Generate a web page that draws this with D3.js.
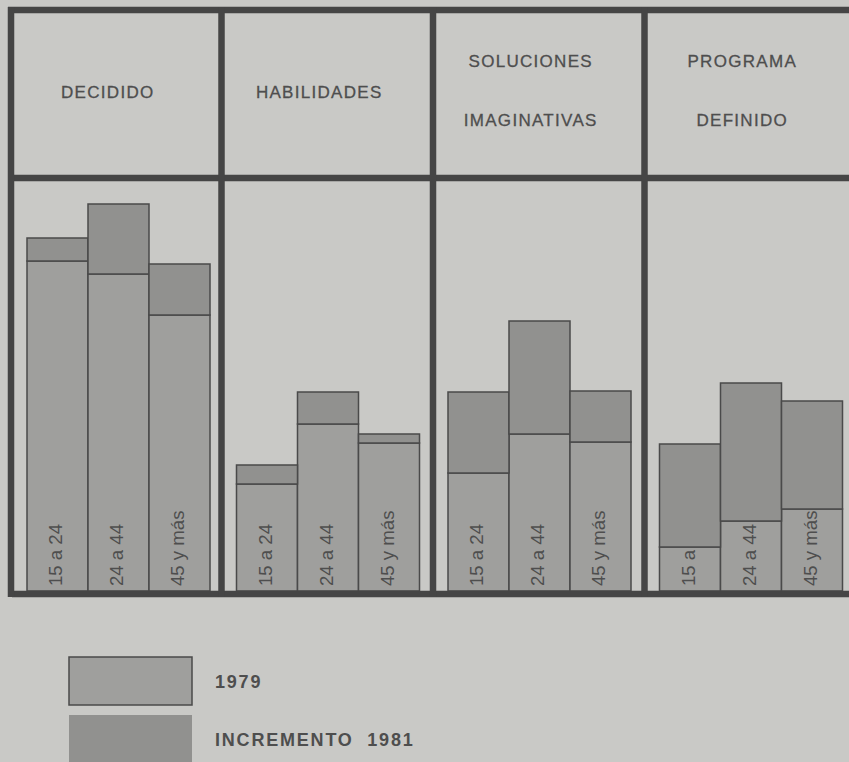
<!DOCTYPE html>
<html><head><meta charset="utf-8">
<script src="https://cdn.jsdelivr.net/npm/d3@7"></script>
<style>
html,body{margin:0;padding:0;background:#c9c9c6;}
svg{display:block;font-family:"Liberation Sans",Arial,sans-serif;}
</style></head>
<body><svg id="c" width="849" height="762"></svg>
<script>
const categories = ["DECIDIDO","HABILIDADES","SOLUCIONES IMAGINATIVAS","PROGRAMA DEFINIDO"];
const headerLines = [["DECIDIDO"],["HABILIDADES"],["SOLUCIONES","IMAGINATIVAS"],["PROGRAMA","DEFINIDO"]];
const ageGroups = ["15 a 24","24 a 44","45 y más"];
const values1979 = [[82.5,79.25,69],[26.75,41.75,37],[29.5,39.25,37.25],[11,17.5,20.5]];
const increment1981 = [[5.75,17.5,12.75],[4.75,8,2.25],[20.25,28.25,12.75],[25.75,34.5,27]];
const legendLabels = ["1979","INCREMENTO  1981"];

const C = {bg:"#c9c9c6", c79:"#9f9f9d", inc:"#91918f", frame:"#454545", text:"#4e4e4e", outline:"#4a4a4a"};
const svg = d3.select("#c");
svg.append("rect").attr("width",849).attr("height",762).attr("fill",C.bg);

const x0 = d3.scaleBand().domain(categories).range([10,856]).paddingInner(0);
const x1 = d3.scaleBand().domain(ageGroups).range([15,198]).padding(0);
const y = d3.scaleLinear().domain([0,100]).range([591,191]);
const headerTop = 10, headerBottom = 178, baseY = 594;

const g = svg.append("g");
categories.forEach((cat,i)=>{
  const shift = i===0 ? 2 : 0;
  const pg = g.append("g").attr("transform",`translate(${x0(cat)+shift},0)`);
  pg.selectAll("rect.b79").data(ageGroups).join("rect").attr("class","b79")
    .attr("x",d=>x1(d)).attr("width",x1.bandwidth())
    .attr("y",(d,j)=>y(values1979[i][j])).attr("height",(d,j)=>y(0)-y(values1979[i][j]))
    .attr("fill",C.c79).attr("stroke",C.outline).attr("stroke-width",1.5);
  pg.selectAll("text.age").data(ageGroups).join("text").attr("class","age")
    .attr("transform",d=>`translate(${x1(d)+x1.bandwidth()/2-2},586) rotate(-90)`)
    .attr("dy","0.35em").attr("font-size",18.6).attr("fill",C.text).text(d=>d);
  pg.selectAll("rect.inc").data(ageGroups).join("rect").attr("class","inc")
    .attr("x",d=>x1(d)).attr("width",x1.bandwidth())
    .attr("y",(d,j)=>y(values1979[i][j]+increment1981[i][j]))
    .attr("height",(d,j)=>y(values1979[i][j])-y(values1979[i][j]+increment1981[i][j]))
    .attr("fill",C.inc).attr("stroke",C.outline).attr("stroke-width",1.5);
  const lines = headerLines[i];
  const cx = x0.bandwidth()/2 - 8 - shift;
  const ys = lines.length===1 ? [98] : [67,126];
  lines.forEach((t,k)=>{
    pg.append("text").attr("x",cx).attr("y",ys[k]).attr("text-anchor","middle")
      .attr("font-size",17).attr("letter-spacing",1.3).attr("fill",C.text)
      .attr("stroke",C.text).attr("stroke-width",0.3).text(t);
  });
});

const fr = svg.append("g").attr("stroke",C.frame).attr("stroke-width",6.5).attr("fill","none");
fr.append("line").attr("x1",8).attr("x2",849).attr("y1",headerTop).attr("y2",headerTop);
fr.append("line").attr("x1",8).attr("x2",849).attr("y1",headerBottom).attr("y2",headerBottom);
fr.append("line").attr("x1",12).attr("x2",849).attr("y1",baseY).attr("y2",baseY);
categories.forEach((cat,i)=>{
  const xx = x0(cat) + (i===0?1:0);
  fr.append("line").attr("x1",xx).attr("x2",xx).attr("y1",headerTop-3).attr("y2",baseY+3);
});
fr.append("line").attr("x1",856).attr("x2",856).attr("y1",headerTop-3).attr("y2",baseY+3);

const lg = svg.append("g");
const legendFill = [C.c79, C.inc];
legendLabels.forEach((t,k)=>{
  const yy = 657 + k*58;
  lg.append("rect").attr("x",69).attr("y",yy).attr("width",123).attr("height",48)
    .attr("fill",legendFill[k]).attr("stroke",k===0?C.outline:"none").attr("stroke-width",1.5);
  lg.append("text").attr("x",215).attr("y",yy+31).attr("font-size",18).attr("font-weight","bold")
    .attr("letter-spacing",1.8).attr("fill",C.text).style("white-space","pre").text(t);
});
</script></body></html>
